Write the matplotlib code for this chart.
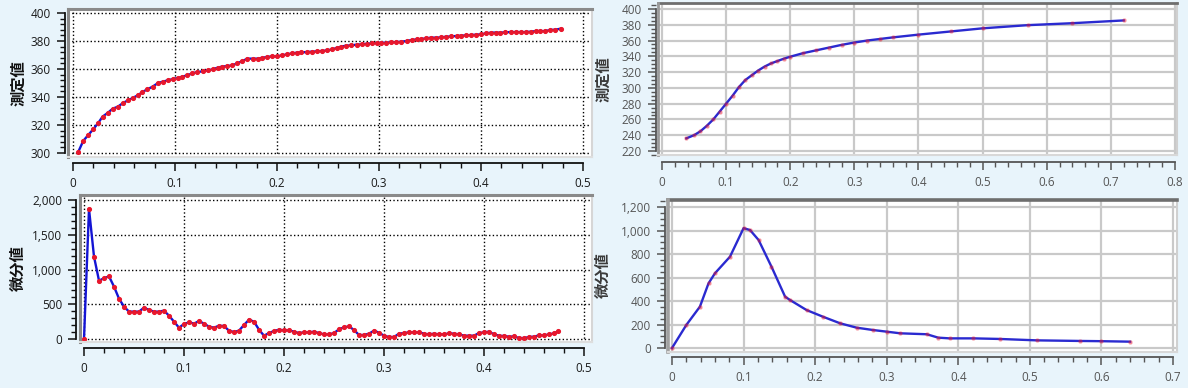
import matplotlib.pyplot as plt
from matplotlib.ticker import MultipleLocator, FuncFormatter
from matplotlib.lines import Line2D

W, H = 1188, 388

# --- left panels: measured values and their differential ---
meas_x = [0.005, 0.010, 0.015, 0.020, 0.025, 0.029, 0.034, 0.039, 0.044, 0.049,
          0.054, 0.059, 0.064, 0.068, 0.073, 0.078, 0.083, 0.088, 0.093, 0.098,
          0.103, 0.107, 0.112, 0.117, 0.122, 0.127, 0.132, 0.137, 0.142, 0.146,
          0.151, 0.156, 0.161, 0.166, 0.171, 0.176, 0.181, 0.185, 0.190, 0.195,
          0.200, 0.205, 0.210, 0.215, 0.220, 0.224, 0.229, 0.234, 0.239, 0.244,
          0.249, 0.254, 0.259, 0.263, 0.268, 0.273, 0.278, 0.283, 0.288, 0.293,
          0.298, 0.302, 0.307, 0.312, 0.317, 0.322, 0.327, 0.332, 0.337, 0.341,
          0.346, 0.351, 0.356, 0.361, 0.366, 0.371, 0.376, 0.380, 0.385, 0.390,
          0.395, 0.400, 0.405, 0.410, 0.415, 0.419, 0.424, 0.429, 0.434, 0.439,
          0.444, 0.449, 0.454, 0.458, 0.463, 0.468, 0.473, 0.478]
meas_y = [300.5, 308.6, 312.9, 317.1, 321.7, 326.0, 328.6, 331.7, 333.1, 335.7,
          337.6, 339.5, 341.4, 343.6, 345.5, 347.4, 349.8, 351.0, 351.9, 352.9,
          353.6, 354.5, 355.5, 356.9, 357.9, 358.3, 359.0, 359.8, 361.0, 361.7,
          362.1, 362.6, 364.0, 365.7, 367.4, 367.4, 367.4, 367.9, 368.6, 369.0,
          369.0, 369.8, 370.5, 371.2, 371.7, 371.9, 372.1, 372.4, 372.6, 372.9,
          373.3, 374.0, 375.2, 376.0, 376.7, 376.9, 377.4, 377.6, 378.1, 378.3,
          378.6, 378.8, 378.8, 379.0, 379.3, 379.5, 380.0, 380.7, 381.2, 381.4,
          381.9, 382.4, 382.4, 382.6, 383.1, 383.3, 383.6, 383.8, 384.0, 384.3,
          384.5, 384.8, 385.5, 386.0, 386.0, 386.0, 386.2, 386.4, 386.4, 386.4,
          386.4, 386.7, 387.1, 387.1, 387.1, 387.9, 388.1, 388.8]

diff_x = [0.000, 0.005, 0.010, 0.015, 0.020, 0.025, 0.030, 0.035, 0.040, 0.045,
          0.050, 0.055, 0.060, 0.065, 0.070, 0.075, 0.080, 0.085, 0.090, 0.095,
          0.100, 0.105, 0.110, 0.115, 0.120, 0.125, 0.130, 0.135, 0.140, 0.145,
          0.150, 0.155, 0.160, 0.165, 0.170, 0.175, 0.180, 0.185, 0.190, 0.195,
          0.200, 0.205, 0.210, 0.215, 0.220, 0.225, 0.230, 0.235, 0.240, 0.245,
          0.250, 0.255, 0.260, 0.265, 0.270, 0.275, 0.280, 0.285, 0.290, 0.295,
          0.300, 0.305, 0.310, 0.315, 0.320, 0.325, 0.330, 0.335, 0.340, 0.345,
          0.350, 0.355, 0.360, 0.365, 0.370, 0.375, 0.380, 0.385, 0.390, 0.395,
          0.400, 0.405, 0.410, 0.415, 0.420, 0.425, 0.430, 0.435, 0.440, 0.445,
          0.450, 0.455, 0.460, 0.465, 0.470, 0.474]
diff_y = [0, 1872, 1186, 840, 874, 902, 754, 581, 466, 394,
          394, 394, 451, 418, 394, 394, 408, 336, 250, 163,
          216, 240, 221, 259, 221, 178, 163, 192, 187, 120,
          101, 120, 202, 278, 250, 134, 48, 86, 115, 134,
          125, 125, 106, 86, 96, 96, 106, 86, 67, 67,
          86, 139, 168, 182, 130, 58, 58, 77, 120, 91,
          48, 29, 29, 77, 86, 96, 96, 96, 77, 67,
          77, 67, 67, 82, 77, 67, 48, 48, 48, 86,
          96, 106, 67, 48, 43, 34, 38, 14, 14, 29,
          34, 53, 53, 67, 82, 110]

# --- right panels: smoothed curve and its differential ---
fit_x = [0.038, 0.05, 0.06, 0.07, 0.08, 0.09, 0.10, 0.11, 0.12, 0.13,
         0.14, 0.15, 0.16, 0.17, 0.18, 0.19, 0.20, 0.22, 0.24, 0.26,
         0.28, 0.30, 0.32, 0.34, 0.36, 0.40, 0.45, 0.50, 0.57, 0.64, 0.72]
fit_y = [236, 240, 245, 252, 260, 270, 280, 290, 301, 310,
         316, 322, 327, 331, 334, 337, 339.5, 344, 347.5, 351,
         354.5, 357.5, 360, 362, 364, 367.5, 371.5, 375.5, 379.5, 382, 385.5]

fitdiff_x = [0.0, 0.02, 0.039, 0.051, 0.06, 0.081, 0.10, 0.109, 0.121, 0.139,
             0.158, 0.165, 0.188, 0.211, 0.235, 0.258, 0.281, 0.30, 0.319, 0.356,
             0.372, 0.388, 0.421, 0.458, 0.51, 0.57, 0.60, 0.64]
fitdiff_y = [0, 196, 352, 550, 636, 777, 1020, 1004, 919, 692,
             437, 408, 323, 266, 210, 173, 153, 139, 125, 117,
             88, 82, 82, 77, 65, 60, 58, 54]

BG = '#e8f4fb'
RED = '#e8172c'
BLUE = '#1414d4'


def px_box(l, t, r, b):
    # pixel box (from top-left) -> figure fraction
    return [l / W, 1 - b / H, (r - l) / W, (b - t) / H]


def comma_fmt(v, pos):
    return '{:,.0f}'.format(v)


def plain_fmt(v, pos):
    return '{:g}'.format(round(v, 3))


def setup(ax, xlim, ylim, xmaj, xmin, ymaj, ymin, xb, yb, left_out, bottom_out,
          yfmt, dotted, tick_color, axis_color):
    ax.set_xlim(*xlim)
    ax.set_ylim(*ylim)
    ax.set_facecolor('white')
    ax.xaxis.set_major_locator(MultipleLocator(xmaj))
    ax.xaxis.set_minor_locator(MultipleLocator(xmin))
    ax.yaxis.set_major_locator(MultipleLocator(ymaj))
    ax.yaxis.set_minor_locator(MultipleLocator(ymin))
    ax.xaxis.set_major_formatter(FuncFormatter(plain_fmt))
    ax.yaxis.set_major_formatter(FuncFormatter(yfmt))
    ax.spines['left'].set_position(('outward', left_out * 0.72))
    ax.spines['bottom'].set_position(('outward', bottom_out * 0.72))
    ax.spines['left'].set_bounds(*yb)
    ax.spines['bottom'].set_bounds(*xb)
    for s in ('left', 'bottom'):
        ax.spines[s].set_color(axis_color)
        ax.spines[s].set_linewidth(1.3)
    ax.tick_params(which='major', direction='out', length=6, width=1.1,
                   colors=axis_color, labelcolor=tick_color, labelsize=8.5, pad=4)
    ax.tick_params(which='minor', direction='out', length=3.5, width=1,
                   colors=axis_color)
    for lab in ax.get_xticklabels() + ax.get_yticklabels():
        lab.set_fontfamily('Open Sans')
    if dotted:
        ax.grid(True, which='major', color='black', linestyle=':', linewidth=1.0)
    else:
        ax.grid(True, which='major', color='#c9c9c9', linestyle='-', linewidth=1.6)
    ax.set_axisbelow(True)
    # ticks only where the axis lines are drawn
    ax.xaxis.set_ticks_position('bottom')
    ax.yaxis.set_ticks_position('left')
    ax.set_xticks([t for t in ax.get_xticks() if xb[0] - 1e-9 <= t <= xb[1] + 1e-9])
    ax.set_yticks([t for t in ax.get_yticks() if yb[0] - 1e-9 <= t <= yb[1] + 1e-9])
    ax.set_xlim(*xlim)
    ax.set_ylim(*ylim)


def frame(ax, left_c, top_c, right_c, bottom_c, lw_lt, lw_rb):
    ax.spines['top'].set_color(top_c)
    ax.spines['top'].set_linewidth(lw_lt)
    ax.spines['right'].set_color(right_c)
    ax.spines['right'].set_linewidth(lw_rb)
    ax.add_line(Line2D([0, 0], [0, 1], transform=ax.transAxes, color=left_c,
                       lw=lw_lt, clip_on=False, zorder=5))
    ax.add_line(Line2D([0, 1], [0, 0], transform=ax.transAxes, color=bottom_c,
                       lw=lw_rb, clip_on=False, zorder=5))


fig = plt.figure(figsize=(W / 100, H / 100), dpi=100, facecolor=BG)

# top-left: measured values
ax1 = fig.add_axes(px_box(68, 9, 592, 157))
setup(ax1, (-0.0049, 0.5088), (297.14, 402.86), 0.1, 0.02, 20, 4,
      (0, 0.5), (300, 400), 3, 6, plain_fmt, True, '#1a1a1a', '#111111')
frame(ax1, '#8a8a8a', '#8a8a8a', '#d6d6d6', '#dedede', 2.2, 1.5)
ax1.plot(meas_x, meas_y, color=BLUE, lw=1.7, marker='o', ms=2.7,
         mfc=RED, mec=RED, zorder=3)

# bottom-left: differential values
ax2 = fig.add_axes(px_box(80, 195, 592, 342))
setup(ax2, (-0.004, 0.508), (-43, 2072), 0.1, 0.02, 500, 100,
      (0, 0.5), (0, 2000), 4, 6, comma_fmt, True, '#1a1a1a', '#111111')
frame(ax2, '#8a8a8a', '#8a8a8a', '#d6d6d6', '#dedede', 2.2, 1.5)
ax2.plot(diff_x, diff_y, color=BLUE, lw=1.7, marker='o', ms=2.7,
         mfc=RED, mec=RED, zorder=3)

# top-right: smoothed measured values
ax3 = fig.add_axes(px_box(658, 3, 1177, 155))
setup(ax3, (-0.0062, 0.8031), (214.9, 407.6), 0.1, 0.02, 20, 5,
      (0, 0.8), (220, 400), 2, 7, plain_fmt, False, '#555555', '#555555')
frame(ax3, '#9a9a9a', '#6e6e6e', '#d0d0d0', '#d8d8d8', 2.0, 1.5)
ax3.plot(fit_x, fit_y, color='#2a2ad0', lw=1.7, zorder=3)
ax3.plot(fit_x, fit_y, 'o', ms=2.2, color=RED, alpha=0.35, zorder=4)

# bottom-right: smoothed differential
ax4 = fig.add_axes(px_box(668, 200, 1177, 352))
setup(ax4, (-0.0056, 0.7056), (-34, 1259.6), 0.1, 0.02, 200, 50,
      (0, 0.7), (0, 1200), 3, 5, comma_fmt, False, '#555555', '#555555')
frame(ax4, '#a0a0a0', '#6e6e6e', '#d0d0d0', '#d8d8d8', 2.6, 1.5)
ax4.plot(fitdiff_x, fitdiff_y, color='#2a2ad0', lw=1.7, zorder=3)
ax4.plot(fitdiff_x, fitdiff_y, 'o', ms=2.2, color=RED, alpha=0.35, zorder=4)

# axis titles
jp = ['Noto Sans CJK JP', 'DejaVu Sans']
fig.text(18 / W, 1 - 83 / H, '測定値', rotation=90, ha='center', va='center',
         fontsize=11, fontweight='bold', family=jp, color='#111111')
fig.text(18 / W, 1 - 268 / H, '微分値', rotation=90, ha='center', va='center',
         fontsize=11, fontweight='bold', family=jp, color='#111111')
fig.text(603 / W, 1 - 79 / H, '測定値', rotation=90, ha='center', va='center',
         fontsize=11, fontweight='bold', family=jp, color='#3a3a3a')
fig.text(603 / W, 1 - 275 / H, '微分値', rotation=90, ha='center', va='center',
         fontsize=11, fontweight='bold', family=jp, color='#3a3a3a')

fig.savefig('out.png', dpi=100, facecolor=BG)
